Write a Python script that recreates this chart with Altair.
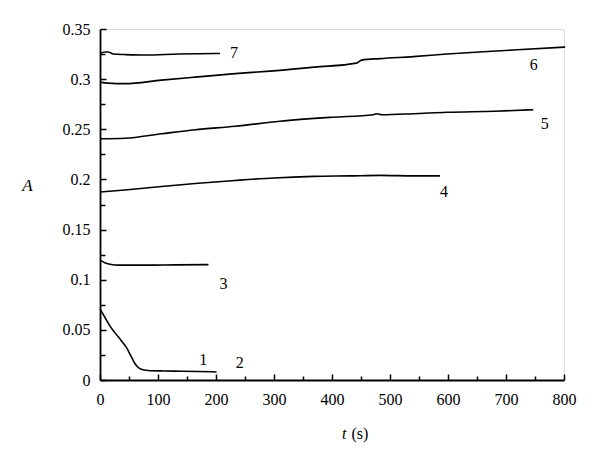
import altair as alt
import pandas as pd

# ---- data ----
t1 = [0, 9, 17, 26, 37, 46, 55, 62, 70, 83, 109, 140, 170, 201]
a1 = [0.071, 0.062, 0.054, 0.047, 0.039, 0.032, 0.022, 0.015, 0.011, 0.0095, 0.009, 0.0088, 0.0085, 0.008]

t3 = [0, 8, 17, 34, 80, 130, 187]
a3 = [0.1195, 0.117, 0.1155, 0.1145, 0.1145, 0.1148, 0.115]

t4 = [0, 43, 106, 164, 233, 300, 368, 430, 483, 540, 586]
a4 = [0.1875, 0.1895, 0.193, 0.196, 0.199, 0.2015, 0.203, 0.2035, 0.204, 0.2035, 0.2035]

t5 = [0, 43, 106, 164, 233, 310, 400, 471, 477, 486, 540, 598, 680, 747]
a5 = [0.2405, 0.241, 0.2455, 0.2495, 0.253, 0.258, 0.262, 0.2645, 0.2655, 0.2645, 0.2655, 0.267, 0.268, 0.2695]

t6 = [0, 14, 43, 106, 164, 233, 293, 370, 442, 451, 483, 540, 598, 712, 802]
a6 = [0.297, 0.296, 0.2955, 0.299, 0.302, 0.3055, 0.308, 0.312, 0.316, 0.319, 0.3205, 0.3225, 0.325, 0.329, 0.332]

t7 = [0, 9, 14, 23, 43, 78, 135, 198, 207]
a7 = [0.3255, 0.327, 0.327, 0.325, 0.3245, 0.324, 0.325, 0.3255, 0.3255]

label_text = ["1", "2", "3", "4", "5", "6", "7"]
label_t = [178, 241, 213, 593, 767, 748, 231]
label_a = [0.0195, 0.0165, 0.096, 0.187, 0.2555, 0.3145, 0.326]

x_major = [0, 100, 200, 300, 400, 500, 600, 700, 800]
x_minor = [50, 150, 250, 350, 450, 550, 650, 750]
y_major = [0, 0.05, 0.1, 0.15, 0.2, 0.25, 0.3, 0.35]
y_minor = [0.025, 0.075, 0.125, 0.175, 0.225, 0.275, 0.325]

# ---- build table ----
rows = []
for name, ts, as_ in [("1", t1, a1), ("3", t3, a3), ("4", t4, a4), ("5", t5, a5),
                      ("6", t6, a6), ("7", t7, a7)]:
    for t, a in zip(ts, as_):
        rows.append({"curve": name, "t": t, "A": a})
df = pd.DataFrame(rows)
lab = pd.DataFrame({"label": label_text, "t": label_t, "A": label_a})

W, H = 464, 351
FONT = "Liberation Serif"
xs = alt.Scale(domain=[0, 800], nice=False)
ys = alt.Scale(domain=[0, 0.35], nice=False)

lines = alt.Chart(df).mark_line(color="black", strokeWidth=1.6, interpolate="monotone").encode(
    x=alt.X("t:Q", scale=xs, axis=alt.Axis(
        orient="bottom", values=x_major, format="d", ticks=False, tickSize=0,
        domainColor="black", domainWidth=1.8, labelPadding=11, grid=False,
        labelFlush=False, labelOverlap=False,
        title="t", titleFont=FONT, titleFontStyle="italic", titleFontWeight="normal",
        titleFontSize=16, titleX=246, titleY=58, titleAlign="right", titleBaseline="alphabetic",
        labelFont=FONT, labelFontSize=16, labelColor="black", titleColor="black")),
    y=alt.Y("A:Q", scale=ys, axis=alt.Axis(
        orient="left", values=y_major, ticks=False, tickSize=0, domainColor="black",
        domainWidth=1.8, labelPadding=10, grid=False, labelFont=FONT, labelFontSize=16,
        labelFlush=False, labelOverlap=False,
        labelColor="black", labelExpr="datum.value == 0 ? '0' : format(datum.value, '.2~f')",
        title="A", titleFont=FONT, titleFontStyle="italic", titleFontWeight="normal",
        titleFontSize=17, titleAngle=0, titleX=-73, titleY=156, titleAlign="center",
        titleBaseline="middle", titleColor="black")),
    detail="curve:N",
)

labels = alt.Chart(lab).mark_text(font=FONT, fontSize=16, color="black").encode(
    x=alt.X("t:Q", scale=xs, axis=None),
    y=alt.Y("A:Q", scale=ys, axis=None),
    text="label:N",
)

# inward major ticks
major = alt.Chart(df).mark_point(opacity=0).encode(
    x=alt.X("t:Q", scale=xs, axis=alt.Axis(
        orient="top", offset=-H, values=x_major, labels=False, domain=False,
        tickSize=6, tickColor="black", tickWidth=1.5, grid=False,
        title="(s)", titleFont=FONT, titleFontWeight="normal", titleFontSize=16,
        titleX=251, titleY=58, titleAlign="left", titleBaseline="alphabetic",
        titleColor="black")),
    y=alt.Y("A:Q", scale=ys, axis=alt.Axis(
        orient="right", offset=-W, values=y_major, labels=False, domain=False,
        tickSize=6, tickColor="black", tickWidth=1.5, grid=False, title=None)),
)

# inward minor ticks
minor = alt.Chart(df).mark_point(opacity=0).encode(
    x=alt.X("t:Q", scale=xs, axis=alt.Axis(
        orient="top", offset=-H, values=x_minor, labels=False, domain=False,
        tickSize=4, tickColor="black", tickWidth=1.5, grid=False, title=None)),
    y=alt.Y("A:Q", scale=ys, axis=alt.Axis(
        orient="right", offset=-W, values=y_minor, labels=False, domain=False,
        tickSize=5, tickColor="black", tickWidth=1.5, grid=False, title=None)),
)

chart = alt.layer(lines, labels, major, minor).resolve_axis(
    x="independent", y="independent"
).properties(
    width=W, height=H,
    autosize=alt.AutoSizeParams(type="none"),
    padding={"left": 92, "top": 21, "right": 20, "bottom": 75},
).configure_view(stroke=None).configure(background="white")

chart.save("out.html", embed_options={"renderer": "svg", "actions": False})
